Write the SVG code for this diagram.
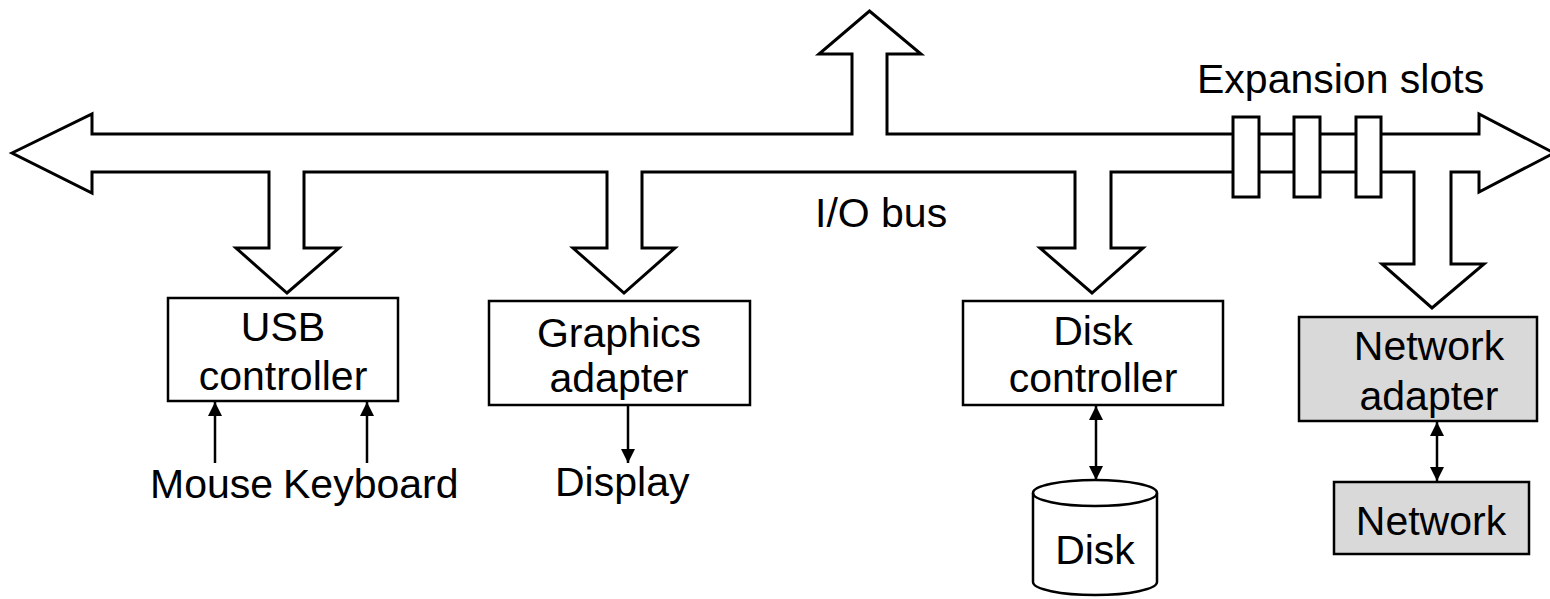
<svg xmlns="http://www.w3.org/2000/svg" width="1550" height="599" viewBox="0 0 1550 599">
<defs>
<style>
.bus{fill:#fff;stroke:#000;stroke-width:3;stroke-linejoin:miter}
.box{fill:#fff;stroke:#000;stroke-width:2.5}
.gray{fill:#d9d9d9;stroke:#000;stroke-width:2.5}
.slot{fill:#fff;stroke:#000;stroke-width:3}
.lnk{fill:none;stroke:#000;stroke-width:2.5}
text{font-family:"Liberation Sans",Arial,sans-serif;font-size:41px;fill:#000}
.c{text-anchor:middle}
</style>
<marker id="ah" markerUnits="userSpaceOnUse" markerWidth="14" markerHeight="14" viewBox="0 0 14 14" refX="14" refY="7" orient="auto-start-reverse">
<path d="M0,0 L14,7 L0,14 Z" fill="#000"/>
</marker>
</defs>
<g id="bus">
<path class="bus" d="M12,153 L92,114 L92,134 L852,134 L852,54 L819,54 L869.5,11 L921,54 L887,54 L887,134 L1479,134 L1479,114 L1554,153 L1479,192 L1479,172 L1451,172 L1451,264 L1484,264 L1432,308 L1382,264 L1414,264 L1414,172 L1111,172 L1111,248 L1143,248 L1092,293 L1040,248 L1075,248 L1075,172 L642,172 L642,248 L675,248 L624,293 L573,248 L607,248 L607,172 L304,172 L304,248 L339,248 L287,293 L236,248 L269,248 L269,172 L92,172 L92,193 Z"/>
<rect class="slot" x="1233" y="117" width="26" height="80"/>
<rect class="slot" x="1294" y="117" width="26" height="80"/>
<rect class="slot" x="1356" y="117" width="25" height="80"/>
<text x="1197" y="93">Expansion slots</text>
<text x="815" y="227">I/O bus</text>
</g>
<g id="usb">
<rect class="box" x="168" y="298" width="230" height="103"/>
<text class="c" x="283" y="341">USB</text>
<text class="c" x="283" y="390">controller</text>
</g>
<g id="graphics">
<rect class="box" x="489" y="301" width="261" height="104"/>
<text class="c" x="619" y="347">Graphics</text>
<text class="c" x="619" y="392">adapter</text>
</g>
<g id="diskctl">
<rect class="box" x="963" y="301" width="260" height="104"/>
<text class="c" x="1093" y="345">Disk</text>
<text class="c" x="1093" y="392">controller</text>
</g>
<g id="netadapter">
<rect class="gray" x="1299" y="317" width="238" height="104"/>
<text class="c" x="1429" y="360">Network</text>
<text class="c" x="1429" y="410">adapter</text>
</g>
<g id="network">
<rect class="gray" x="1334" y="482" width="195" height="72"/>
<text class="c" x="1431" y="535">Network</text>
</g>
<g id="mouse"><text x="150" y="498">Mouse</text></g>
<g id="keyboard"><text x="283" y="498">Keyboard</text></g>
<g id="display"><text x="555" y="496">Display</text></g>
<g id="disk">
<path class="box" d="M1033,493 A62,13 0 0,1 1157,493 L1157,582 A62,13 0 0,1 1033,582 Z"/>
<path class="lnk" d="M1033,493 A62,13 0 0,0 1157,493"/>
<text class="c" x="1095" y="564">Disk</text>
</g>
<g id="connectors">
<line class="lnk" x1="215" y1="463" x2="215" y2="402" marker-end="url(#ah)"/>
<line class="lnk" x1="367" y1="463" x2="367" y2="402" marker-end="url(#ah)"/>
<line class="lnk" x1="628" y1="406" x2="628" y2="463" marker-end="url(#ah)"/>
<line class="lnk" x1="1096" y1="406" x2="1096" y2="480" marker-start="url(#ah)" marker-end="url(#ah)"/>
<line class="lnk" x1="1437" y1="422" x2="1437" y2="481" marker-start="url(#ah)" marker-end="url(#ah)"/>
</g>
</svg>
